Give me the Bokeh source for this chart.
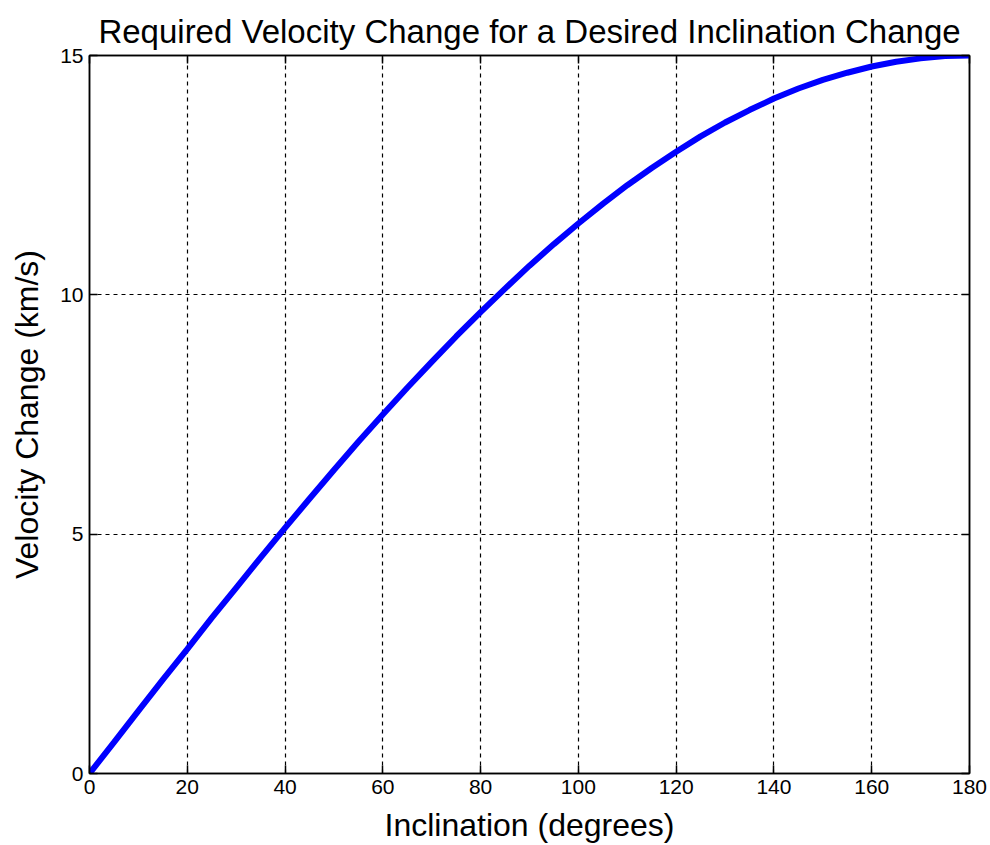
from bokeh.plotting import figure
from bokeh.models import LinearAxis, FixedTicker, Range1d
from bokeh.embed import file_html
from bokeh.resources import INLINE

# Inclination change (degrees) and required velocity change (km/s)
inclination = [0, 5, 10, 15, 20, 25, 30, 35, 40, 45, 50, 55, 60, 65, 70, 75, 80, 85, 90,
               95, 100, 105, 110, 115, 120, 125, 130, 135, 140, 145, 150, 155, 160, 165,
               170, 175, 180]
delta_v = [0.00, 0.65, 1.31, 1.96, 2.60, 3.25, 3.88, 4.51, 5.13, 5.74, 6.34, 6.93, 7.50,
           8.06, 8.60, 9.13, 9.64, 10.13, 10.61, 11.06, 11.49, 11.90, 12.29, 12.65, 12.99,
           13.31, 13.60, 13.86, 14.10, 14.31, 14.49, 14.64, 14.77, 14.87, 14.94, 14.99, 15.00]

x_ticks = [0, 20, 40, 60, 80, 100, 120, 140, 160, 180]
y_ticks = [0, 5, 10, 15]

FONT = "Liberation Sans"

p = figure(width=990, height=845, output_backend="svg", toolbar_location=None,
           x_range=Range1d(0, 180), y_range=Range1d(0, 15),
           min_border_left=89, min_border_right=21, min_border_top=55, min_border_bottom=70,
           x_axis_label="Inclination (degrees)", y_axis_label="Velocity Change (km/s)")

p.title.text = "Required Velocity Change for a Desired Inclination Change"
p.title.align = "center"
p.title.text_font = FONT
p.title.text_font_size = "33px"
p.title.text_font_style = "normal"
p.title.text_color = "black"
p.title.offset = 0
p.title.standoff = 12

p.background_fill_color = "white"
p.border_fill_color = "white"
p.outline_line_color = "black"
p.outline_line_width = 1.5

for ax in (p.xaxis[0], p.yaxis[0]):
    ax.major_tick_in = 8
    ax.major_tick_out = 0
    ax.minor_tick_in = 0
    ax.minor_tick_out = 0
    ax.axis_line_color = "black"
    ax.axis_line_width = 1.5
    ax.major_tick_line_color = "black"
    ax.major_tick_line_width = 1.5
    ax.major_label_text_font = FONT
    ax.major_label_text_font_size = "21px"
    ax.major_label_text_color = "black"
    ax.major_label_standoff = 6
    ax.axis_label_text_font = FONT
    ax.axis_label_text_font_size = "32px"
    ax.axis_label_text_font_style = "normal"
    ax.axis_label_text_color = "black"

p.xaxis[0].ticker = FixedTicker(ticks=x_ticks)
p.yaxis[0].ticker = FixedTicker(ticks=y_ticks)
p.xaxis[0].axis_label_standoff = 10
p.yaxis[0].axis_label_standoff = 12

# Inward ticks on the top and right edges of the box (no labels there)
top = LinearAxis(ticker=FixedTicker(ticks=x_ticks),
                 major_label_overrides={t: "" for t in x_ticks},
                 major_tick_in=8, major_tick_out=0, minor_tick_in=0, minor_tick_out=0,
                 axis_line_color="black", axis_line_width=1.5,
                 major_tick_line_width=1.5, major_label_standoff=0)
right = LinearAxis(ticker=FixedTicker(ticks=y_ticks),
                   major_label_overrides={t: "" for t in y_ticks},
                   major_tick_in=8, major_tick_out=0, minor_tick_in=0, minor_tick_out=0,
                   axis_line_color="black", axis_line_width=1.5,
                   major_tick_line_width=1.5, major_label_standoff=0)
p.add_layout(top, "above")
p.add_layout(right, "right")

for g in (p.xgrid[0], p.ygrid[0]):
    g.grid_line_color = "black"
    g.grid_line_dash = "4 4"
    g.grid_line_width = 1.2
p.xgrid[0].ticker = FixedTicker(ticks=x_ticks)
p.ygrid[0].ticker = FixedTicker(ticks=y_ticks)

p.line(inclination, delta_v, line_color="#0000ff", line_width=6)

open("out.html", "w").write(file_html(p, INLINE))
